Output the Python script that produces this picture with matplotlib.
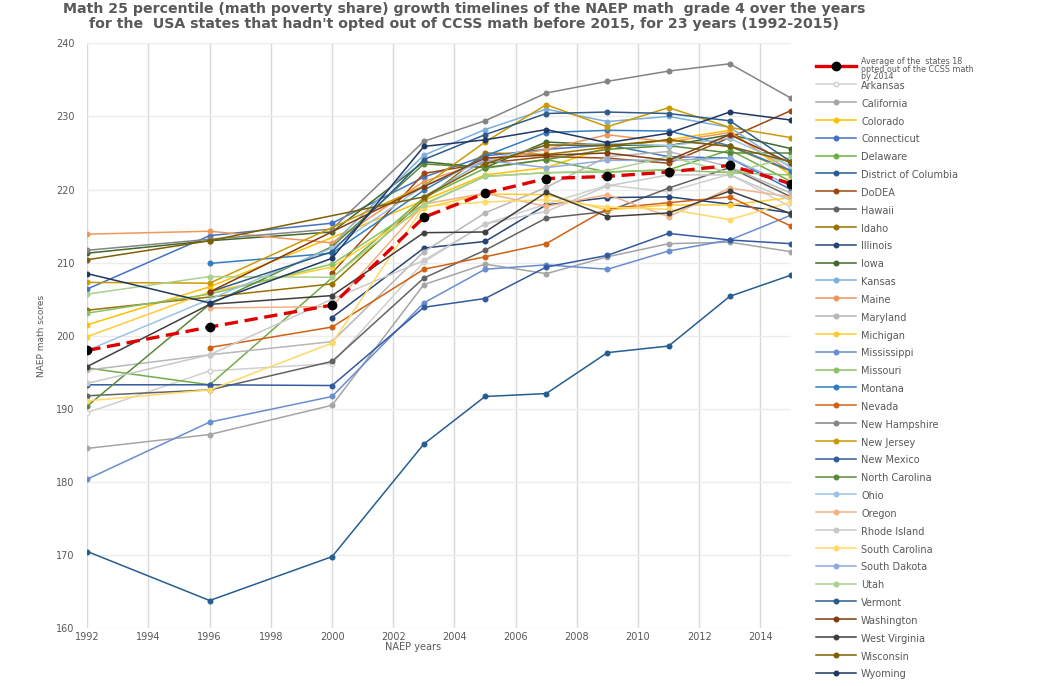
import numpy as np
import matplotlib
matplotlib.use("Agg")
import matplotlib.pyplot as plt
from matplotlib.lines import Line2D

N = np.nan
years = [1992, 1996, 2000, 2003, 2005, 2007, 2009, 2011, 2013, 2015]

average = [198.0, 201.2, 204.2, 216.2, 219.5, 221.5, 221.8, 222.4, 223.3, 220.8]
arkansas = [189.5, 195.2, 196.2, 210.1, 215.3, 218.0, 220.6, 219.7, 222.1, 217.6]
california = [184.6, 186.5, 190.5, 207.0, 209.8, 208.5, 210.8, 212.6, 212.8, 211.5]
colorado = [201.5, 206.7, N, 218.5, 222.0, 223.0, 225.8, 226.8, 228.1, 221.9]
connecticut = [206.4, 213.7, 215.4, 221.7, 224.6, 225.5, 226.1, 224.5, 224.3, 220.0]
delaware = [195.6, 193.3, N, 218.9, 222.9, 224.1, 222.4, 222.7, 225.4, 221.1]
district_of_columbia = [170.5, 163.8, 169.8, 185.2, 191.7, 192.1, 197.7, 198.6, 205.4, 208.3]
dodea = [N, N, 208.6, 222.2, 223.6, 224.5, 224.3, 223.6, 227.1, 230.8]
hawaii = [191.8, 192.6, 196.5, 207.9, 211.7, 216.1, 217.0, 220.2, 223.0, 219.0]
idaho = [203.5, N, 207.1, 218.6, 225.0, 224.8, 225.8, 226.8, 225.9, 222.5]
illinois = [N, N, 202.5, 212.0, 212.9, 217.9, 218.9, 219.0, 218.0, 216.8]
iowa = [211.3, 213.0, 214.2, 223.8, 223.0, 226.5, 226.1, 226.0, 227.5, 225.6]
kansas = [N, N, 212.5, 224.7, 228.2, 231.0, 229.3, 230.0, 228.5, 223.0]
maine = [213.9, 214.3, 212.7, 221.1, 223.8, 225.5, 227.5, 226.5, 227.8, 222.5]
maryland = [195.3, 197.4, 199.2, 211.5, 216.8, 220.3, 224.5, 225.2, 223.1, 219.5]
michigan = [199.9, 206.0, 209.4, 217.5, 219.4, 219.3, 217.2, 217.9, 217.9, 218.9]
mississippi = [180.4, 188.2, 191.7, 204.5, 209.1, 209.7, 209.1, 211.6, 213.1, 216.5]
missouri = [203.1, 205.7, 209.8, 218.0, 221.8, 222.3, 222.4, 222.7, 222.3, 222.0]
montana = [N, 209.9, 211.3, 219.9, 224.6, 227.8, 228.1, 228.0, 226.0, 222.6]
nevada = [N, 198.4, 201.2, 209.1, 210.8, 212.6, 217.4, 218.2, 219.0, 215.0]
new_hampshire = [211.7, 213.2, 214.6, 226.6, 229.4, 233.2, 234.8, 236.2, 237.2, 232.5]
new_jersey = [207.3, 207.2, N, 220.5, 226.5, 231.6, 228.6, 231.2, 228.5, 227.1]
new_mexico = [193.3, 193.3, 193.2, 203.9, 205.1, 209.4, 211.0, 214.0, 213.1, 212.6]
north_carolina = [190.4, 204.3, 212.2, 223.5, 223.0, 224.1, 225.5, 226.0, 225.0, 225.0]
ohio = [198.0, N, 212.0, 220.5, 224.0, 226.0, 226.3, 226.0, 227.0, 223.2]
oregon = [N, 203.8, 204.0, 218.0, 219.5, 217.7, 219.3, 216.3, 220.2, 219.0]
rhode_island = [193.5, 197.4, 205.0, 210.3, 215.3, 217.0, 220.5, 222.0, 222.0, 218.5]
south_carolina = [191.1, 192.6, 199.0, 217.7, 218.3, 218.6, 217.6, 217.3, 215.9, 218.3]
south_dakota = [N, N, N, 219.0, 224.0, 223.0, 224.0, 224.0, 224.3, 220.5]
utah = [205.7, 208.1, 208.0, 217.9, 221.8, 222.3, 222.6, 224.5, 222.3, 224.4]
vermont = [N, 206.0, 211.5, 224.1, 227.5, 230.4, 230.6, 230.4, 229.4, 223.8]
washington = [N, 206.0, N, 220.4, 224.3, 224.7, 225.0, 224.0, 227.5, 223.6]
west_virginia = [195.8, 204.3, 205.5, 214.1, 214.2, 219.6, 216.3, 216.8, 219.8, 216.7]
wisconsin = [210.4, 213.0, N, 219.0, 223.5, 226.1, 226.0, 226.8, 225.9, 223.8]
wyoming = [208.5, 204.5, 210.6, 225.9, 226.8, 228.2, 226.4, 227.7, 230.6, 229.5]

state_names = ["Arkansas", "California", "Colorado", "Connecticut", "Delaware",
               "District of Columbia", "DoDEA", "Hawaii", "Idaho", "Illinois", "Iowa",
               "Kansas", "Maine", "Maryland", "Michigan", "Mississippi", "Missouri",
               "Montana", "Nevada", "New Hampshire", "New Jersey", "New Mexico",
               "North Carolina", "Ohio", "Oregon", "Rhode Island", "South Carolina",
               "South Dakota", "Utah", "Vermont", "Washington", "West Virginia",
               "Wisconsin", "Wyoming"]
state_values = [arkansas, california, colorado, connecticut, delaware,
                district_of_columbia, dodea, hawaii, idaho, illinois, iowa,
                kansas, maine, maryland, michigan, mississippi, missouri,
                montana, nevada, new_hampshire, new_jersey, new_mexico,
                north_carolina, ohio, oregon, rhode_island, south_carolina,
                south_dakota, utah, vermont, washington, west_virginia,
                wisconsin, wyoming]
state_colors = ["#D0D0D0", "#A5A5A5", "#FFC000", "#4472C4", "#70AD47",
                "#255E91", "#9E480E", "#636363", "#997300", "#264478", "#43682B",
                "#7CAFDD", "#F1975A", "#B7B7B7", "#FFCD33", "#698ED0", "#8CC168",
                "#327DC2", "#D26012", "#848484", "#CC9A00", "#335AA1",
                "#5A8A39", "#9DC3E6", "#F4B183", "#C9C9C9", "#FFD966",
                "#8FAADC", "#A9D18E", "#2E5C8A", "#843C0C", "#3F3F3F",
                "#7F6000", "#203864"]
avg_label = "Average of the  states 18\nopted out of the CCSS math\nby 2014"

W, H = 1051, 686
fig = plt.figure(figsize=(W / 100, H / 100), dpi=100)
ax = fig.add_axes([87.3 / W, 1 - 628.3 / H, (791 - 87.3) / W, (628.3 - 43.3) / H])
ax.set_xlim(1992, 2015)
ax.set_ylim(160, 240)
ax.set_xticks(range(1992, 2015, 2))
ax.set_yticks(range(160, 241, 10))
for s in ax.spines.values():
    s.set_visible(False)
ax.grid(axis="x", color="#D9D9D9", lw=1.0, zorder=0)
ax.grid(axis="y", color="#EDEDED", lw=1.0, zorder=0)
ax.set_axisbelow(True)
ax.tick_params(length=0, labelsize=7, labelcolor="#595959")
ax.tick_params(axis="y", pad=9)
ax.tick_params(axis="x", pad=3)

yrs = np.array(years, dtype=float)
for name, vals, col in zip(state_names, state_values, state_colors):
    v = np.array(vals, dtype=float)
    m = ~np.isnan(v)
    mfc = "white" if name == "Arkansas" else col
    ax.plot(yrs[m], v[m], color=col, lw=1.1, marker="o", ms=3.3,
            mfc=mfc, mec=col, zorder=3)

av = np.array(average, dtype=float)
ax.plot(yrs, av, color="#E00000", lw=2.4, dashes=(4, 2), marker="o", ms=6,
        mfc="black", mec="black", zorder=6)

fig.text(413 / W, 1 - 647 / H, "NAEP years", ha="center", va="center",
         fontsize=7, color="#595959")
fig.text(41 / W, 1 - 336 / H, "NAEP math scores", ha="center", va="center",
         rotation=90, fontsize=6.5, color="#595959")

fig.text(464 / W, 1 - 9 / H,
         "Math 25 percentile (math poverty share) growth timelines of the NAEP math  grade 4 over the years",
         ha="center", va="center", fontsize=10.2, fontweight="bold", color="#595959")
fig.text(464 / W, 1 - 24 / H,
         "for the  USA states that hadn't opted out of CCSS math before 2015, for 23 years (1992-2015)",
         ha="center", va="center", fontsize=10.2, fontweight="bold", color="#595959")

# legend
lx0, lx1, lxm, lxt = 816 / W, 856 / W, 836 / W, 861 / W
ya = 1 - 65.7 / H
fig.add_artist(Line2D([lx0, lx1], [ya, ya], color="#E00000", lw=2.4))
fig.add_artist(Line2D([lxm], [ya], marker="o", ms=6, mfc="black", mec="black", lw=0))
fig.text(lxt, 1 - 57.5 / H, avg_label, ha="left", va="top", fontsize=5.8,
         color="#595959", linespacing=0.78)
step = (672.7 - 84.3) / (len(state_names) - 1)
for i, (name, col) in enumerate(zip(state_names, state_colors)):
    y = 1 - (84.3 + i * step) / H
    mfc = "white" if name == "Arkansas" else col
    fig.add_artist(Line2D([lx0, lx1], [y, y], color=col, lw=1.1))
    fig.add_artist(Line2D([lxm], [y], marker="o", ms=3.3, mfc=mfc, mec=col, lw=0))
    fig.text(lxt, 1 - (86.0 + i * step) / H, name, ha="left", va="center",
             fontsize=7.0, color="#595959")

fig.savefig("out.png", dpi=100)
